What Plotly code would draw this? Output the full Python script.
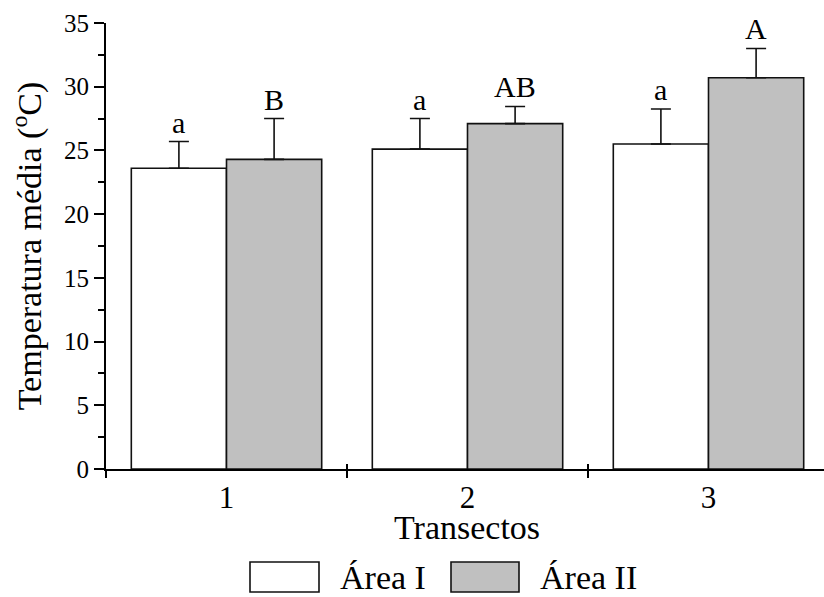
import plotly.graph_objects as go

# Mean temperature per transect and area, with standard deviation
transectos = [1, 2, 3]
area_i = [23.6, 25.1, 25.5]
area_i_sd = [2.1, 2.4, 2.75]
area_ii = [24.3, 27.1, 30.7]
area_ii_sd = [3.2, 1.35, 2.3]
letras_i = ["a", "a", "a"]
letras_ii = ["B", "AB", "A"]
serie_nomes = ["Área I", "Área II"]
cores = ["#ffffff", "#c0c0c0"]

FONT = "Liberation Serif"
W, H = 824, 597
ML, MR, MT, MB = 106, 0, 23, 128
BARGAP = 0.21
bar_w = (1 - BARGAP) / 2
x_end = 0.5 + (W - ML - MR) / 241.0


def px_x(px):
    return (px - ML) / (W - ML - MR)


def px_y(py):
    return (H - MB - py) / (H - MT - MB)


fig = go.Figure()
for vals, sd, cor, nome in [(area_i, area_i_sd, cores[0], serie_nomes[0]),
                            (area_ii, area_ii_sd, cores[1], serie_nomes[1])]:
    fig.add_trace(go.Bar(
        x=transectos, y=vals, name=nome, showlegend=False,
        marker=dict(color=cor, line=dict(color="#111111", width=1.6)),
        error_y=dict(type="data", array=sd, arrayminus=[0] * len(sd),
                     symmetric=False, color="#111111", thickness=1.6, width=10),
    ))

# helper trace so the overlay axis (upward tick halves) is drawn
fig.add_trace(go.Scatter(x=[1], y=[0], xaxis="x2", mode="markers",
                         marker=dict(opacity=0), showlegend=False, hoverinfo="skip"))

# significance letters above each error bar
for xs, vals, sd, letras, off in [(transectos, area_i, area_i_sd, letras_i, -bar_w / 2),
                                  (transectos, area_ii, area_ii_sd, letras_ii, bar_w / 2)]:
    for x, v, s, t in zip(xs, vals, sd, letras):
        fig.add_annotation(x=x + off, y=v + s, text=t, showarrow=False,
                           xanchor="center", yanchor="bottom", yshift=1,
                           font=dict(family=FONT, size=30, color="black"))

# x-axis title
fig.add_annotation(xref="paper", yref="paper", x=px_x(467), y=px_y(527),
                   text="Transectos", showarrow=False, xanchor="center", yanchor="middle",
                   font=dict(family=FONT, size=34, color="black"))

# legend drawn as boxes with labels below the axis title
legend_items = [(250, 319, 338), (451, 519, 538)]
for (b0, b1, tx), cor, nome in zip(legend_items, cores, serie_nomes):
    fig.add_shape(type="rect", xref="paper", yref="paper",
                  x0=px_x(b0), x1=px_x(b1), y0=px_y(592), y1=px_y(562),
                  fillcolor=cor, line=dict(color="#111111", width=1.6))
    fig.add_annotation(xref="paper", yref="paper", x=px_x(tx), y=px_y(577),
                       text=nome, showarrow=False, xanchor="left", yanchor="middle",
                       font=dict(family=FONT, size=34, color="black"))

fig.update_layout(
    width=W, height=H,
    margin=dict(l=ML, r=MR, t=MT, b=MB, pad=0),
    paper_bgcolor="white", plot_bgcolor="white",
    barmode="group", bargap=BARGAP, bargroupgap=0,
    font=dict(family=FONT, color="black"),
    xaxis=dict(
        range=[0.5, x_end], tickmode="array", tickvals=transectos,
        ticktext=[str(t) for t in transectos], ticks="", ticklen=0,
        showline=True, linecolor="black", linewidth=2, showgrid=False, zeroline=False,
        tickfont=dict(family=FONT, size=31, color="black"),
        minor=dict(tickmode="array", tickvals=[0.5, 1.5, 2.5, 3.5], ticks="outside",
                   ticklen=7, tickwidth=2, tickcolor="black", showgrid=False),
    ),
    xaxis2=dict(
        overlaying="x", anchor="y", side="bottom", range=[0.5, x_end],
        tickmode="array", tickvals=[1.5, 2.5], ticks="inside", ticklen=5, tickwidth=2,
        tickcolor="black", showticklabels=False, showline=False, showgrid=False,
        zeroline=False,
    ),
    yaxis=dict(
        range=[0, 35], tickmode="linear", tick0=0, dtick=5,
        ticks="outside", ticklen=10, tickwidth=2, tickcolor="black",
        showline=True, linecolor="black", linewidth=2, showgrid=False, zeroline=False,
        tickfont=dict(family=FONT, size=25, color="black"),
        minor=dict(dtick=2.5, ticks="outside", ticklen=6, tickwidth=2,
                   tickcolor="black", showgrid=False),
        title=dict(text="Temperatura média (<sup>o</sup>C)",
                   font=dict(family=FONT, size=34, color="black"), standoff=12),
    ),
)

fig.write_html("out.html")
